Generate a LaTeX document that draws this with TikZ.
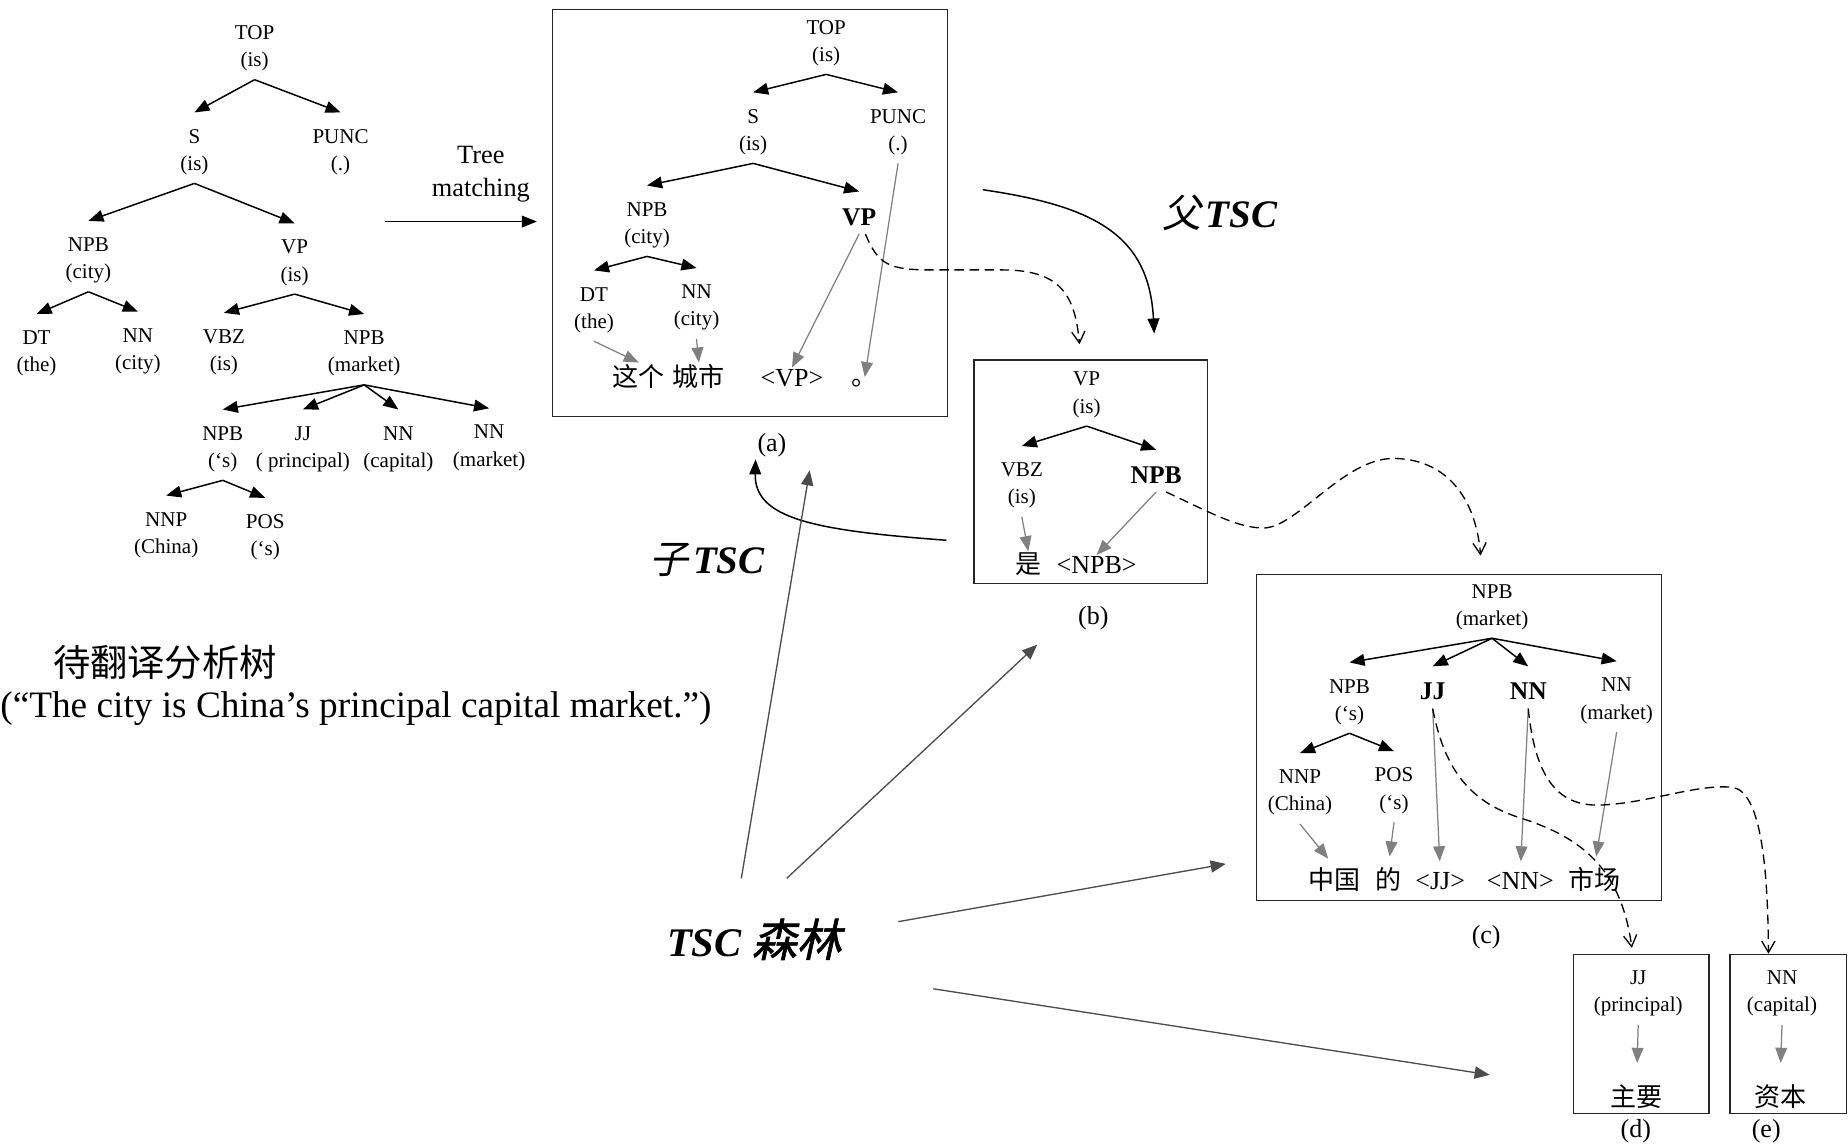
\documentclass[tikz,border=0pt]{standalone}
\usepackage{fontspec}
\setmainfont{Liberation Serif}
\newfontfamily\cjk{Noto Sans CJK SC}
\newfontfamily\cjkit{Noto Sans CJK SC}[FakeSlant=0.22]
\newfontfamily\cjkbi{Noto Sans CJK SC}[Scale=1.1,FakeSlant=0.22,FakeBold=1.5]
\usetikzlibrary{arrows.meta,fit}

\newcommand\lab{\fontsize{12.7}{16.4}\selectfont}
\newcommand\hlab{\fontsize{15.4}{18}\selectfont\bfseries}
\newcommand\wrd{\fontsize{15.7}{18}\selectfont}
\newcommand\tmlab{\fontsize{15.9}{19.9}\selectfont}
\newcommand\tsclab{\fontsize{23.5}{28}\selectfont}
\newcommand\sent{\fontsize{22.5}{27}\selectfont}

\begin{document}
\begin{tikzpicture}[x=0.25mm, y=-0.25mm,
  tnode/.style  = {font=\lab, align=center, inner xsep=1pt, inner ysep=1.75mm},
  hnode/.style  = {font=\hlab, inner xsep=1pt, inner ysep=1.75mm},
                    % the head of a subtree: bold, one line
  word/.style   = {font=\wrd, anchor=base, inner sep=1pt},
  tag/.style    = {font=\wrd, inner sep=1pt},
  tsc/.style    = {font=\tsclab, inner sep=1pt},
  frame/.style  = {draw=black!85, line width=0.7pt, inner sep=0pt},
  branch/.style = {line width=0.9pt, -{Triangle[length=3.2mm,width=2.5mm]},
                   to path={(\tikztostart.south) -- ([yshift=1.75mm]\tikztotarget.north)}},
  map/.style    = {draw=black!50, line width=0.75pt, -{Triangle[length=3.2mm,width=2.5mm]},
                   to path={(\tikztostart.south) -- (\tikztotarget.north)}},
                    % a word of the tree to its place in the target string
  link/.style   = {line width=0.8pt, dash pattern=on 2mm off 1.2mm,
                   -{Straight Barb[length=2.4mm,width=2.8mm]}},
  arrow/.style  = {line width=0.9pt, -{Triangle[length=3.2mm,width=2.5mm]}},
  feed/.style   = {draw=black!70, line width=0.8pt, -{Triangle[length=3.2mm,width=2.6mm]}},
]
  \useasboundingbox (0,0) rectangle (1568,974);

  % the parse tree to translate
  \node[tnode] (ltop)  at (216,41)  {TOP\\(is)};
  \node[tnode] (ls)    at (165,129) {S\\(is)};
  \node[tnode] (lpunc) at (289,129) {PUNC\\(.)};
  \node[tnode] (lnpb)  at (75,221)  {NPB\\(city)};
  \node[tnode] (lvp)   at (250,223) {VP\\(is)};
  \node[tnode] (ldt)   at (31,300)  {DT\\(the)};
  \node[tnode] (lnn)   at (117,298) {NN\\(city)};
  \node[tnode] (lvbz)  at (190,299) {VBZ\\(is)};
  \node[tnode] (lnpbm) at (309,300) {NPB\\(market)};
  \node[tnode] (lnpbs) at (189,381) {NPB\\(‘s)};
  \node[tnode] (ljj)   at (257,381) {JJ\\( principal)};
  \node[tnode] (lnnc)  at (338,381) {NN\\(capital)};
  \node[tnode] (lnnm)  at (415,380) {NN\\(market)};
  \node[tnode] (lnnp)  at (141,454) {NNP\\(China)};
  \node[tnode] (lpos)  at (225,456) {POS\\(‘s)};

  \draw[branch] (ltop) to (ls);
  \draw[branch] (ltop) to (lpunc);
  \draw[branch] (ls) to (lnpb);
  \draw[branch] (ls) to (lvp);
  \draw[branch] (lnpb) to (ldt);
  \draw[branch] (lnpb) to (lnn);
  \draw[branch] (lvp) to (lvbz);
  \draw[branch] (lvp) to (lnpbm);
  \draw[branch] (lnpbm) to (lnpbs);
  \draw[branch] (lnpbm) to (ljj);
  \draw[branch] (lnpbm) to (lnnc);
  \draw[branch] (lnpbm) to (lnnm);
  \draw[branch] (lnpbs) to (lnnp);
  \draw[branch] (lnpbs) to (lpos);

  \node[font=\sent] (srczh) at (140,562) {{\cjk 待翻译分析树}};
  \node[font=\sent] (srcen) at (302,601) {(“The city is China’s principal capital market.”)};

  \node[font=\tmlab, align=center] (tm) at (408,148) {Tree\\matching};
  \coordinate (tmfrom) at (327,188);

  % (a)
  \node[frame, fit={(469,8) (804,353.5)}] (boxa) {};
  \node[tnode] (atop)  at (701,36.5) {TOP\\(is)};
  \node[tnode] (as)    at (639,112)  {S\\(is)};
  \node[tnode] (apunc) at (762,112)  {PUNC\\(.)};
  \node[tnode] (anpb)  at (549,191)  {NPB\\(city)};
  \node[hnode] (avp)   at (729,184)  {VP};
  \node[tnode] (adt)   at (504,263)  {DT\\(the)};
  \node[tnode] (ann)   at (591,261)  {NN\\(city)};
  \node[word] (azhege) at (542,328) {{\cjk 这个}};
  \node[word] (acheng) at (593,328) {{\cjk 城市}};
  \node[word] (avpw)   at (672,328) {<VP>};
  \node[word, anchor=base west] (ajuhao) at (721,327) {{\cjk 。}};
  \node[tag] (taga) at (655,378) {(a)};

  \draw[branch] (atop) to (as);
  \draw[branch] (atop) to (apunc);
  \draw[branch] (as) to (anpb);
  \draw[branch] (as) to (avp);
  \draw[branch] (anpb) to (adt);
  \draw[branch] (anpb) to (ann);
  \draw[map] (adt) to (azhege);
  \draw[map] (ann) to (acheng);
  \draw[map] (avp) to (avpw);
  \draw[map] (apunc) to (ajuhao);

  % (b)
  \node[frame, fit={(826.4,305.5) (1024.6,495)}] (boxb) {};
  \node[tnode] (bvp)  at (922,335) {VP\\(is)};
  \node[tnode] (bvbz) at (867,412) {VBZ\\(is)};
  \node[hnode] (bnpb) at (981,403) {NPB};
  \node[word] (bshi)  at (872.5,487) {{\cjk 是}};
  \node[word] (bnpbw) at (930.5,487) {<NPB>};
  \node[tag] (tagb) at (927.6,524.6) {(b)};

  \draw[branch] (bvp) to (bvbz);
  \draw[branch] (bvp) to (bnpb);
  \draw[map] (bvbz) to (bshi);
  \draw[map] (bnpb) to (bnpbw);

  % (c)
  \node[frame, fit={(1066.3,487.8) (1409.9,764.1)}] (boxc) {};
  \node[tnode] (cnpbm) at (1266,515)     {NPB\\(market)};
  \node[tnode] (cnpbs) at (1145,595.6)   {NPB\\(‘s)};
  \node[hnode] (cjj)   at (1215.6,586.8) {JJ};
  \node[hnode] (cnn)   at (1296.7,586.8) {NN};
  \node[tnode] (cnnm)  at (1371.7,594.6) {NN\\(market)};
  \node[tnode] (cnnp)  at (1103,672.6)   {NNP\\(China)};
  \node[tnode] (cpos)  at (1182.8,671)   {POS\\(‘s)};
  \node[word] (czhongguo) at (1132,755) {{\cjk 中国}};
  \node[word] (cde)       at (1178,755) {{\cjk 的}};
  \node[word] (cjjw)      at (1222,755) {<JJ>};
  \node[word] (cnnw)      at (1290,755) {<NN>};
  \node[word] (cshichang) at (1353,755) {{\cjk 市场}};
  \node[tag] (tagc) at (1261,795) {(c)};

  \draw[branch] (cnpbm) to (cnpbs);
  \draw[branch] (cnpbm) to (cjj);
  \draw[branch] (cnpbm) to (cnn);
  \draw[branch] (cnpbm) to (cnnm);
  \draw[branch] (cnpbs) to (cnnp);
  \draw[branch] (cnpbs) to (cpos);
  \draw[map, shorten >=2mm] (cnnp) to (czhongguo);
  \draw[map, shorten >=2mm] (cpos) to (cde);
  \draw[map, shorten >=2mm] (cjj) to (cjjw);
  \draw[map, shorten >=2mm] (cnn) to (cnnw);
  \draw[map, shorten >=2mm] (cnnm) to (cshichang);

  % (d) and (e)
  \node[frame, fit={(1334.9,809.7) (1450,944.6)}] (boxd) {};
  \node[tnode] (djj) at (1390,843) {JJ\\(principal)};
  \node[word] (dzhuyao) at (1388.6,939) {{\cjk 主要}};
  \node[tag] (tagd) at (1388,960) {(d)};
  \draw[map, shorten >=4.25mm] (djj) to (dzhuyao);

  \node[frame, fit={(1467.9,809.7) (1567,944.6)}] (boxe) {};
  \node[tnode] (enn) at (1512,843) {NN\\(capital)};
  \node[word] (eziben) at (1510.3,939) {{\cjk 资本}};
  \node[tag] (tage) at (1498.6,960) {(e)};
  \draw[map, shorten >=4.25mm] (enn) to (eziben);

  % tree matching into (a), parent and child TSCs
  \draw[arrow, shorten >=3.25mm] (tmfrom) -- (tmfrom -| boxa.west);

  \node[tsc] (tfather) at (1035,181) {{\cjkit 父}\hspace{0.12em}\textbf{\textit{TSC}}};
  \node[tsc] (tchild)  at (600,475)  {{\cjkit 子}\hspace{0.12em}\textbf{\textit{TSC}}};
  \coordinate (fstart) at (834,161);
  \draw[arrow, shorten >=5.5mm] (fstart) .. controls (930,175) and (975,200) .. (boxb.60);
  \draw[arrow, shorten <=5.75mm] (boxb.211.5) .. controls (690,450) and (640,440) .. (taga.south west);

  % substitution sites: a frontier non-terminal to the TSC rooted there
  \draw[link, shorten >=3.25mm] (avp.-70) .. controls (745,225) and (755,229) .. (790,229)
    -- (850,229) .. controls (900,229) and (912,250) .. (boxb.95);
  \draw[link, shorten >=4mm] (bnpb.-60) .. controls (1025,434) and (1050,448) .. (1072,448)
    .. controls (1100,448) and (1140,389) .. (1182,389)
    .. controls (1225,389) and (1252,420) .. (boxc.82.6);
  \draw[link, shorten >=1.25mm] (cjj.south) .. controls (1225,650) and (1245,680) .. (1290,694)
    .. controls (1340,710) and (1375,735) .. (boxd.96);
  \draw[link] (cnn.south) .. controls (1303,665) and (1325,685) .. (1360,683)
    .. controls (1400,681) and (1440,665) .. (1470,668)
    .. controls (1495,672) and (1500,740) .. (boxe.104);

  % the forest
  \node[tsc, font=\fontsize{24.5}{28}\selectfont, inner xsep=12mm, inner ysep=8.5mm] (forest) at (640,797)
    {\textbf{\textit{TSC}} {\cjkbi 森林}};
  \coordinate (ta) at (687,399);
  \coordinate (tb) at (880,547);
  \coordinate (tc) at (1040,733);
  \coordinate (td) at (1264,912);
  \draw[feed] (forest.102) -- (ta);
  \draw[feed] (forest.62) -- (tb);
  \draw[feed] (forest.7) -- (tc);
  \draw[feed, shorten <=7.5mm] (forest.-17) -- (td);
\end{tikzpicture}
\end{document}
